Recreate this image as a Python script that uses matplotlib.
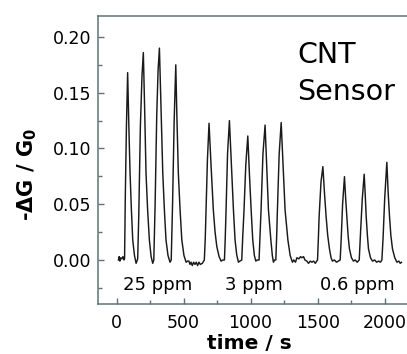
import numpy as np
import matplotlib
matplotlib.use("Agg")
import matplotlib.pyplot as plt

plt.rcParams['font.family'] = ['DejaVu Sans']

# response trace, split by concentration block
t_25ppm = [14, 20, 25, 32, 40, 48, 55, 60, 66, 74, 83, 92, 101, 111, 121, 134, 146,
           158, 166, 178, 190, 200, 209, 220, 232, 245, 258, 270,
           278, 288, 300, 310, 320, 331, 345, 357, 369, 384, 399,
           408, 418, 430, 442, 450, 461, 474, 487, 503, 519, 530]
y_25ppm = [0.000, 0.003, -0.001, 0.002, 0.001, 0.003, 0.000, 0.001, 0.060, 0.120, 0.168, 0.120, 0.078, 0.045, 0.018, 0.004, -0.003,
           0.001, 0.040, 0.120, 0.165, 0.186, 0.140, 0.078, 0.045, 0.018, 0.003, -0.003,
           0.000, 0.050, 0.130, 0.170, 0.190, 0.140, 0.078, 0.045, 0.018, 0.004, -0.002,
           0.000, 0.050, 0.125, 0.175, 0.130, 0.078, 0.045, 0.018, 0.004, -0.002, -0.001]

t_3ppm = [540, 548, 556, 565, 575, 585, 595, 605, 615, 625, 640,
          655, 662, 668, 678, 690, 705, 722, 735, 748, 765, 780, 793,
          805, 811, 817, 828, 842, 857, 872, 884, 896, 909, 920,
          934, 941, 951, 964, 979, 992, 1004, 1016, 1028, 1039, 1050,
          1063, 1070, 1078, 1092, 1108, 1120, 1133, 1151, 1162, 1170, 1179,
          1188, 1194, 1200, 1213, 1228, 1242, 1257, 1278, 1295, 1312]
y_3ppm = [-0.001, -0.004, -0.002, -0.005, -0.002, -0.004, -0.002, -0.005, -0.002, -0.004, -0.003,
          0.000, 0.020, 0.045, 0.090, 0.1226, 0.085, 0.045, 0.025, 0.012, 0.003, -0.001, 0.000,
          0.000, 0.020, 0.045, 0.095, 0.125, 0.085, 0.045, 0.018, 0.005, -0.002, -0.001,
          0.000, 0.020, 0.045, 0.085, 0.1112, 0.075, 0.045, 0.018, 0.004, -0.001, 0.000,
          0.000, 0.020, 0.045, 0.095, 0.121, 0.085, 0.045, 0.018, 0.004, -0.002, 0.000,
          0.000, 0.020, 0.045, 0.095, 0.1232, 0.085, 0.045, 0.018, 0.004, -0.002]

t_06ppm = [1322, 1335, 1345, 1360, 1372, 1382, 1395, 1405, 1419, 1432, 1445, 1457, 1470, 1482, 1494,
           1499, 1505, 1511, 1525, 1539, 1551, 1563, 1575, 1588, 1600, 1610, 1625, 1640, 1655,
           1668, 1676, 1686, 1700, 1709, 1718, 1727, 1737, 1752, 1767, 1780, 1795,
           1810, 1820, 1833, 1847, 1855, 1862, 1871, 1879, 1894, 1909, 1925, 1940, 1955, 1968,
           1979, 1988, 2000, 2016, 2026, 2036, 2046, 2058, 2075, 2091, 2105, 2116, 2125]
y_06ppm = [0.000, -0.002, 0.002, 0.001, 0.003, 0.002, 0.003, 0.000, -0.001, -0.003, -0.001, -0.002, -0.001, -0.003, -0.001,
           0.000, 0.018, 0.039, 0.070, 0.0837, 0.060, 0.039, 0.022, 0.010, 0.002, -0.001, 0.000, -0.002, -0.001,
           0.000, 0.020, 0.050, 0.0747, 0.055, 0.039, 0.022, 0.010, 0.002, -0.001, 0.000, -0.002,
           0.000, 0.025, 0.055, 0.0769, 0.058, 0.039, 0.022, 0.010, 0.002, -0.001, 0.000, -0.002, -0.001, -0.002,
           0.000, 0.020, 0.055, 0.0876, 0.060, 0.039, 0.022, 0.010, 0.002, -0.002, -0.001, -0.003, -0.002]

conc_labels = ["25 ppm", "3 ppm", "0.6 ppm"]
conc_label_x = [310, 1026, 1796]

t = np.array(t_25ppm + t_3ppm + t_06ppm)
y = np.array(y_25ppm + y_3ppm + y_06ppm)

fig = plt.figure(figsize=(4.07, 3.54), dpi=100)
ax = fig.add_axes([0.2408, 0.1412, 0.767, 0.8136])

ax.plot(t, y, color='#1a1a1a', lw=1.05)

ax.set_xlim(-138, 2190)
ax.set_ylim(-0.0395, 0.2188)
ax.set_xticks([0, 500, 1000, 1500, 2000])
ax.set_xticks([250, 750, 1250, 1750], minor=True)
ax.set_yticks([0.0, 0.05, 0.10, 0.15, 0.20])
ax.set_yticks([-0.025, 0.025, 0.075, 0.125, 0.175], minor=True)
ax.set_yticklabels(["0.00", "0.05", "0.10", "0.15", "0.20"])

spine_col = '#5f7373'
for s in ['left', 'bottom', 'top']:
    ax.spines[s].set_color(spine_col)
    ax.spines[s].set_linewidth(1.1)
ax.spines['right'].set_visible(False)
ax.tick_params(which='both', direction='in', color=spine_col, labelsize=12.5,
               top=False, right=False)
ax.tick_params(which='major', length=4, width=1.0)
ax.tick_params(which='minor', length=3, width=1.0)
ax.tick_params(axis='x', pad=7)
ax.tick_params(axis='y', pad=5)

for lab, xx in zip(conc_labels, conc_label_x):
    ax.text(xx, -0.0224, lab, ha='center', va='center', fontsize=13)

ax.text(1347, 0.1767, "CNT", ha='left', va='baseline', fontsize=20.5)
ax.text(1347, 0.1435, "Sensor", ha='left', va='baseline', fontsize=20.5)

ax.set_xlabel("time / s", fontsize=14.5, fontweight='bold')
ax.xaxis.set_label_coords(0.486, -0.105)
ax.set_ylabel(r"-ΔG / G$_\mathbf{0}$", fontsize=15, fontweight='bold')
ax.yaxis.set_label_coords(-0.19, 0.45)

fig.savefig("out.png", dpi=100)
